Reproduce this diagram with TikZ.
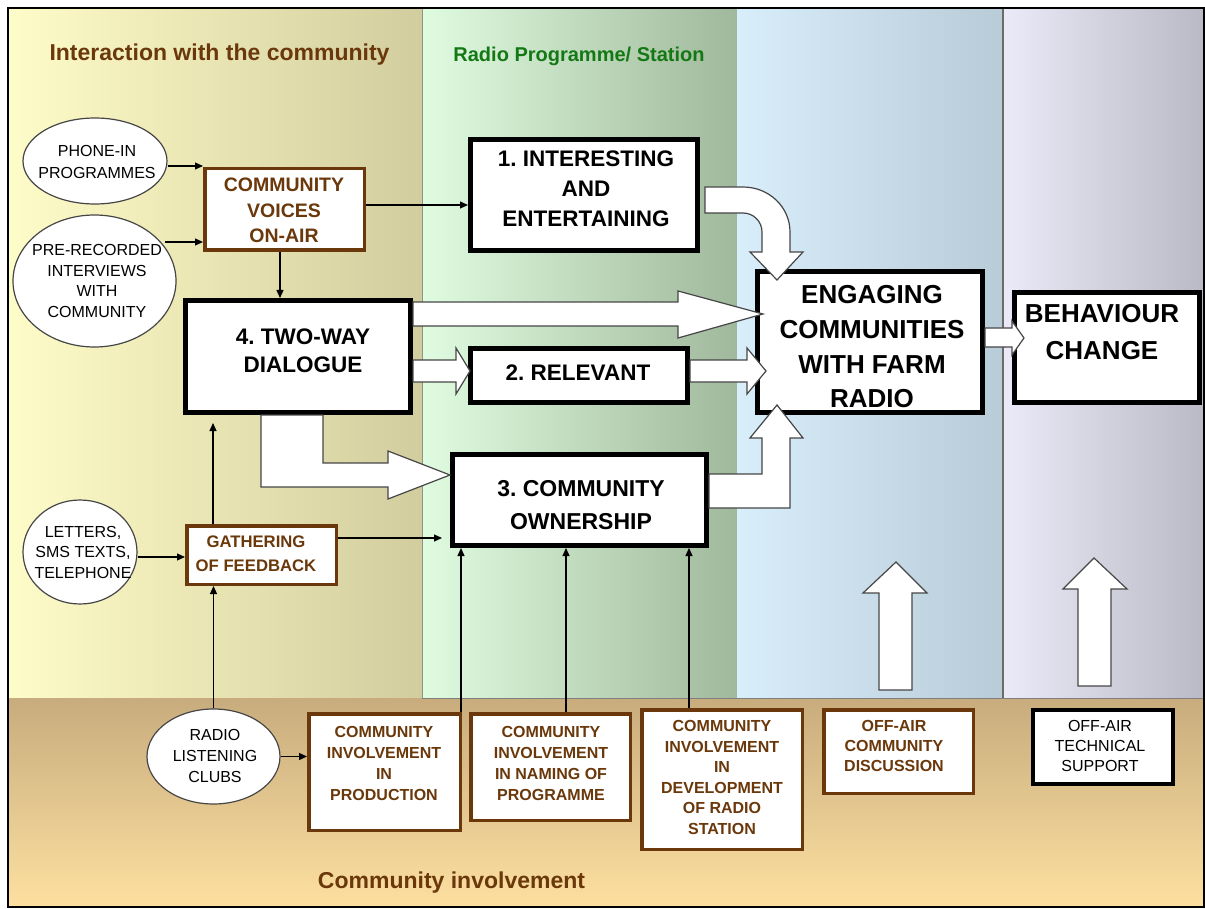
\documentclass[tikz,border=0pt]{standalone}
\usepackage{fontspec}
\setmainfont{Liberation Sans}
\usetikzlibrary{calc,arrows.meta,shapes.geometric}
\frenchspacing
\definecolor{brownT}{RGB}{106,56,10}
\definecolor{greenT}{RGB}{20,120,20}
\definecolor{yelL}{RGB}{254,252,200}
\definecolor{yelR}{RGB}{210,205,158}
\definecolor{grnL}{RGB}{224,252,224}
\definecolor{grnR}{RGB}{160,184,156}
\definecolor{bluL}{RGB}{216,238,250}
\definecolor{bluR}{RGB}{184,204,216}
\definecolor{lavL}{RGB}{234,234,248}
\definecolor{lavR}{RGB}{186,186,198}
\definecolor{tanT}{RGB}{200,172,125}
\definecolor{tanB}{RGB}{253,224,160}
\definecolor{edgeG}{RGB}{70,70,70}
\tikzset{
  bbox/.style={draw=black, line width=5pt, fill=white, inner sep=0pt},
  brbox/.style={draw=brownT, line width=3.5pt, fill=white, inner sep=0pt},
  ell/.style={ellipse, draw=edgeG, line width=1.2pt, fill=white, inner sep=0pt},
  arr/.style={line width=1.2pt, -{Triangle[length=8pt,width=7pt]}},
  blk/.style={draw=edgeG, line width=1.2pt, fill=white, line join=miter},
  btxt/.style={align=center, inner sep=0pt, font=\bfseries},
  brtxt/.style={align=center, inner sep=0pt, text=brownT, font=\bfseries\fontsize{16}{20.6}\selectfont},
  etxt/.style={align=center, inner sep=0pt, font=\fontsize{16}{20.7}\selectfont},
}
\begin{document}
\begin{tikzpicture}[x=1pt,y=-1pt]
\useasboundingbox (0,0) rectangle (1205,909);
% backgrounds
\shade[left color=yelL, right color=yelR] (8,8) rectangle (422,698);
\shade[left color=grnL, right color=grnR] (422,8) rectangle (737,698);
\shade[left color=bluL, right color=bluR] (737,8) rectangle (1003,698);
\shade[left color=lavL, right color=lavR] (1003,8) rectangle (1204,698);
\shade[top color=tanT, bottom color=tanB] (8,698) rectangle (1204,907);
\draw[line width=1pt, draw={rgb,255:red,140;green,150;blue,130}] (422,8) -- (422,698);
\draw[line width=1.5pt, edgeG!80] (1003,8) -- (1003,698);
\draw[line width=0.8pt, gray] (422,698) -- (1204,698);
\draw[line width=1.5pt] (8,8) rectangle (1204,907);

% headings
\node[anchor=base, inner sep=0pt, text=brownT, font=\bfseries\fontsize{23}{28}\selectfont] (hdrA) at (219.5,61) {Interaction with the community};
\node[anchor=base, inner sep=0pt, text=greenT, font=\bfseries\fontsize{20}{24}\selectfont] (hdrB) at (579,62) {Radio Programme/ Station};
\node[anchor=base, inner sep=0pt, text=brownT, font=\bfseries\fontsize{23}{28}\selectfont] (hdrC) at (451.5,888) {Community involvement};

% black boxes
\node[bbox, minimum width=227, minimum height=111] (interest) at (584,195) {};
\node[bbox, minimum width=225, minimum height=112] (twoway) at (298,356.5) {};
\node[bbox, minimum width=217, minimum height=54] (relev) at (579,375.5) {};
\node[bbox, minimum width=254, minimum height=91] (own) at (579.5,500) {};
\node[bbox, minimum width=225, minimum height=141] (engage) at (870,342) {};
\node[bbox, minimum width=185, minimum height=110] (behav) at (1107,347.5) {};

% brown boxes
\node[brbox, minimum width=159.5, minimum height=81.5] (voices) at (284.5,209.5) {};
\node[brbox, minimum width=149.5, minimum height=58.5] (gather) at (261.5,555) {};
\node[brbox, minimum width=151.5, minimum height=116.5] (prod) at (384.5,772) {};
\node[brbox, minimum width=159.5, minimum height=106.5] (naming) at (550.5,767) {};
\node[brbox, minimum width=160.5, minimum height=139.5] (devel) at (722,779.5) {};
\node[brbox, minimum width=149.5, minimum height=83.5] (offcomm) at (898.5,751.5) {};
\node[draw=black, line width=4pt, fill=white, minimum width=140, minimum height=74, inner sep=0pt] (offtech) at (1103,747) {};

% ellipses
\node[ell, minimum width=144, minimum height=86] (phone) at (95,161) {};
\node[ell, minimum width=163, minimum height=132] (pre) at (94.5,281) {};
\node[ell, minimum width=114, minimum height=104] (letters) at (80,552) {};
\node[ell, minimum width=133, minimum height=95] (radio) at (213.5,756.5) {};

% thin connectors
\draw[arr] (phone.east |- 0,166) -- (voices.west |- 0,166);
\draw[arr] ($(pre.center)+(70,-39)$) -- (voices.west |- 0,242);
\draw[arr] (voices.east |- 0,205) -- (interest.west |- 0,205);
\draw[arr] (voices.south -| 280,0) -- (twoway.north -| 280,0);
\draw[arr] (letters.east |- 0,557) -- (gather.west |- 0,557);
\draw[arr] (gather.north -| 213,0) -- ($(twoway.south -| 213,0)+(0,8)$);
\draw[arr] (gather.east |- 0,538) -- ($(own.west |- 0,538)+(-8,0)$);
\draw[arr] (radio.north) -- (radio.north |- gather.south);
\draw[arr] (radio.east) -- (prod.west |- radio.east);
\draw[arr] ($(prod.north east)+(-1,0)$) -- ($(prod.north east |- own.south)+(-1,0)$);
\draw[arr] ($(naming.north)+(15.5,0)$) -- ($(naming.north |- own.south)+(15.5,0)$);
\draw[arr] ($(devel.north)+(-33,0)$) -- ($(devel.north |- own.south)+(-33,0)$);

% block arrows
\filldraw[blk] (413,302) -- (678,302) -- (678,291) -- (763,314) -- (678,338) -- (678,326) -- (413,326) -- cycle;
\filldraw[blk] (413,360) -- (456,360) -- (456,348) -- (470,371) -- (456,394) -- (456,382) -- (413,382) -- cycle;
\filldraw[blk] (690,360) -- (747,360) -- (747,348) -- (766,371) -- (747,394) -- (747,382) -- (690,382) -- cycle;
\filldraw[blk] (261,415) -- (261,487) -- (388,487) -- (388,499) -- (450,475) -- (388,451) -- (388,463) -- (323,463) -- (323,415) -- cycle;
\filldraw[blk] (709,474) -- (762,474) -- (762,438) -- (750,438) -- (777,405) -- (803,438) -- (790,438) -- (790,508) -- (709,508) -- cycle;
\filldraw[blk] (705,187) -- (743,187) .. controls (769,187) and (790,207) .. (790,232) -- (790,252) -- (803,252) -- (777,280) -- (750,252) -- (762,252) -- (762,232) .. controls (762,221.5) and (753.5,213) .. (743,213) -- (705,213) -- cycle;
\filldraw[blk] (985,328) -- (1012,328) -- (1012,321) -- (1024,338) -- (1012,355) -- (1012,347) -- (985,347) -- cycle;
\filldraw[blk] (879,690) -- (879,593) -- (863,593) -- (896,562) -- (927,593) -- (912,593) -- (912,690) -- cycle;
\filldraw[blk] (1078,686) -- (1078,589) -- (1063,589) -- (1094,558) -- (1127,589) -- (1111,589) -- (1111,686) -- cycle;

% texts of boxes
\node[btxt, font=\bfseries\fontsize{22.5}{30}\selectfont] (interestT) at (586,189) {1. INTERESTING\\AND\\ENTERTAINING};
\node[btxt, font=\bfseries\fontsize{22.5}{28}\selectfont] (twowayT) at (303,351) {4. TWO-WAY\\DIALOGUE};
\node[btxt, font=\bfseries\fontsize{22.5}{28}\selectfont] (relevT) at (578,373) {2. RELEVANT};
\node[btxt, font=\bfseries\fontsize{23}{33}\selectfont] (ownT) at (581,505) {3. COMMUNITY\\OWNERSHIP};
\node[btxt, font=\bfseries\fontsize{26}{34.7}\selectfont] (engageT) at (872,346.7) {ENGAGING\\COMMUNITIES\\WITH FARM\\RADIO};
\node[btxt, font=\bfseries\fontsize{26}{37}\selectfont] (behavT) at (1102,332) {BEHAVIOUR\\CHANGE};

\node[brtxt, font=\bfseries\fontsize{19.5}{25.5}\selectfont] (voicesT) at (284,210.5) {COMMUNITY\\VOICES\\ON-AIR};
\node[brtxt, font=\bfseries\fontsize{16.7}{24}\selectfont] (gatherT) at (256,554) {GATHERING\\OF FEEDBACK};
\node[brtxt, font=\bfseries\fontsize{16}{21}\selectfont] (prodT) at (384,763.5) {COMMUNITY\\INVOLVEMENT\\IN\\PRODUCTION};
\node[brtxt, font=\bfseries\fontsize{16}{21}\selectfont] (namingT) at (551,763.5) {COMMUNITY\\INVOLVEMENT\\IN NAMING OF\\PROGRAMME};
\node[brtxt] (develT) at (722,777.5) {COMMUNITY\\INVOLVEMENT\\IN\\DEVELOPMENT\\OF RADIO\\STATION};
\node[brtxt, font=\bfseries\fontsize{16}{20}\selectfont] (offcommT) at (894,746) {OFF-AIR\\COMMUNITY\\DISCUSSION};
\node[etxt, font=\fontsize{16}{20}\selectfont] (offtechT) at (1100,746) {OFF-AIR\\TECHNICAL\\SUPPORT};

\node[etxt, font=\fontsize{16}{22}\selectfont] (phoneT) at (97,162) {PHONE-IN\\PROGRAMMES};
\node[etxt] (preT) at (97,281) {PRE-RECORDED\\INTERVIEWS\\WITH\\COMMUNITY};
\node[etxt, font=\fontsize{16}{20.5}\selectfont] (lettersT) at (83,552) {LETTERS,\\SMS TEXTS,\\TELEPHONE};
\node[etxt] (radioT) at (215,756) {RADIO\\LISTENING\\CLUBS};
\end{tikzpicture}
\end{document}
